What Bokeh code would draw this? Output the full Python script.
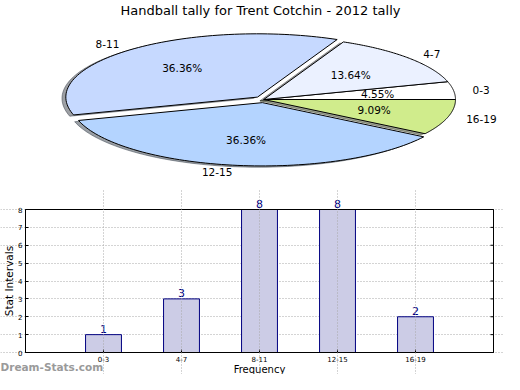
import numpy as np
from bokeh.plotting import figure
from bokeh.models import (Range1d, ColumnDataSource, LabelSet, Label,
                          FixedTicker, BoxAnnotation)
from bokeh.layouts import column
from bokeh.embed import file_html
from bokeh.resources import INLINE
from bokeh.core.properties import value

# ---------------- data ----------------
title = "Handball tally for Trent Cotchin - 2012 tally"
categories = ["0-3", "4-7", "8-11", "12-15", "16-19"]
counts = [1, 3, 8, 8, 2]
slice_colors = ["#FFFFFF", "#EBF1FF", "#C6D9FF", "#B4D4FF", "#D0EC8C"]
explode = [0.0, 0.0, 0.05, 0.05, 0.0]
y_ticks = [0, 1, 2, 3, 4, 5, 6, 7, 8]
y_label = "Stat Intervals"
x_label = "Frequency"
watermark = "Dream-Stats.com"

FONT = "DejaVu Sans"
W = 504
PIE_H = 190
BAR_H = 184

# ---------------- pie ----------------
CX, CY, RX, RY = 263.3, 99.0, 191.7, 63.3

pie = figure(width=W, height=PIE_H, x_range=Range1d(0, W),
             y_range=Range1d(PIE_H, 0), output_backend="svg",
             toolbar_location=None, min_border=0,
             x_axis_location=None, y_axis_location=None)
pie.grid.visible = False
pie.outline_line_color = None

total = float(sum(counts))
fracs = [c / total for c in counts]
bounds = np.concatenate([[0.0], np.cumsum(fracs)]) * 2 * np.pi

sh_xs, sh_ys, sh_cols = [], [], []
sl_xs, sl_ys = [], []
pct_x, pct_y, pct_t = [], [], []
lab_l = dict(x=[], y=[], t=[])
lab_r = dict(x=[], y=[], t=[])
for i, c in enumerate(counts):
    t1, t2 = bounds[i], bounds[i + 1]
    mid = (t1 + t2) / 2
    cx = CX + explode[i] * RX * np.cos(mid)
    cy = CY - explode[i] * RY * np.sin(mid)
    ts = np.linspace(t1, t2, 80)
    xs = [cx] + list(cx + RX * np.cos(ts))
    ys = [cy] + list(cy - RY * np.sin(ts))
    sl_xs.append(xs)
    sl_ys.append(ys)
    sh_xs.append([v - 0.02 * RX for v in xs])
    sh_ys.append([v + 0.02 * RY for v in ys])
    h = slice_colors[i].lstrip("#")
    rgb = [int(h[k:k + 2], 16) for k in (0, 2, 4)]
    sh_cols.append("#%02x%02x%02x" % tuple(int(0.3 * v) for v in rgb))
    pct_x.append(cx + 0.6 * RX * np.cos(mid))
    pct_y.append(cy - 0.6 * RY * np.sin(mid))
    pct_t.append("%.2f%%" % (100 * c / total))
    lx = cx + 1.1 * RX * np.cos(mid)
    ly = cy - 1.1 * RY * np.sin(mid)
    d = lab_r if np.cos(mid) >= 0 else lab_l
    d["x"].append(lx); d["y"].append(ly); d["t"].append(categories[i])

pie.patches(sh_xs, sh_ys, fill_color=sh_cols, fill_alpha=0.5,
            line_color=sh_cols, line_alpha=0.5, line_width=1)
pie.patches(sl_xs, sl_ys, fill_color=slice_colors, line_color="black",
            line_width=1)
txt = dict(text_baseline="middle", text_font=value(FONT),
           text_font_size="10.5px", text_color="black")
pie.text(x=pct_x, y=pct_y, text=pct_t, text_align="center", **txt)
pie.text(x=lab_r["x"], y=lab_r["y"], text=lab_r["t"], text_align="left", **txt)
pie.text(x=lab_l["x"], y=lab_l["y"], text=lab_l["t"], text_align="right", **txt)
pie.text(x=[260], y=[10], text=[title], text_align="center",
         text_baseline="middle", text_font=value(FONT),
         text_font_size="13px", text_color="black")

# ---------------- bars ----------------
# box (axes frame) in picture px; bar canvas spans y = PIE_H .. PIE_H+BAR_H
FR_L, FR_R, FR_T, FR_B = 25, 493, 209, 352
n = len(categories)
xpos = list(range(1, n + 1))
x_lo, x_hi = 0, n + 1
y_lo, y_hi = y_ticks[0], y_ticks[-1]
sx = (FR_R - FR_L) / (x_hi - x_lo)
sy = (FR_B - FR_T) / (y_hi - y_lo)


def px2x(px):
    return x_lo + (px - FR_L) / sx


def py2y(py):
    return y_lo + (FR_B - py) / sy


bar = figure(width=W, height=BAR_H,
             x_range=Range1d(px2x(0), px2x(W)),
             y_range=Range1d(py2y(PIE_H + BAR_H), py2y(PIE_H)),
             output_backend="svg", toolbar_location=None, min_border=0)
bar.outline_line_color = None

src = ColumnDataSource(dict(x=xpos, top=counts, lab=[str(c) for c in counts]))
bar.vbar(x="x", top="top", width=0.46, source=src, fill_color="#CCCCE6",
         line_color="#000080", line_width=1)

bar.xgrid.ticker = FixedTicker(ticks=xpos)
bar.ygrid.ticker = FixedTicker(ticks=y_ticks)
bar.xgrid.bounds = (y_lo, y_hi)
bar.ygrid.bounds = (x_lo, x_hi)
for g in (bar.xgrid, bar.ygrid):
    g.grid_line_color = "#a8a8a8"
    g.grid_line_dash = "1 2"
    g.grid_line_width = 1
bar.xgrid.level = "overlay"

bar.xaxis.ticker = FixedTicker(ticks=xpos)
bar.xaxis.major_label_overrides = {x: c for x, c in zip(xpos, categories)}
bar.yaxis.ticker = FixedTicker(ticks=y_ticks)
bar.xaxis.fixed_location = y_lo
bar.yaxis.fixed_location = x_lo
bar.xaxis.bounds = (x_lo, x_hi)
bar.yaxis.bounds = (y_lo, y_hi)
for ax in (bar.xaxis, bar.yaxis):
    ax.major_label_text_font = FONT
    ax.major_label_text_font_size = "7px"
    ax.major_label_text_color = "black"
    ax.major_tick_in = 3
    ax.major_tick_out = 0
    ax.minor_tick_line_color = None
    ax.axis_line_color = "black"
    ax.major_tick_line_color = "black"
    ax.major_label_standoff = 3

# frame box and right-hand ticks
bar.add_layout(BoxAnnotation(left=x_lo, right=x_hi, bottom=y_lo, top=y_hi,
                             fill_alpha=0, line_color="black", line_width=1,
                             line_alpha=1))
bar.segment(x0=[x_hi] * len(y_ticks), y0=y_ticks,
            x1=[x_hi - 3 / sx] * len(y_ticks), y1=y_ticks,
            line_color="black", line_width=1)

bar.add_layout(LabelSet(x="x", y="top", text="lab", source=src,
                        text_align="center", text_baseline="bottom",
                        y_offset=2, text_font=value(FONT),
                        text_font_size="11px", text_color="#000080"))

bar.add_layout(Label(x=px2x(8.5), y=(y_lo + y_hi) / 2, text=y_label,
                     angle=np.pi / 2, text_align="center",
                     text_baseline="middle", text_font=FONT,
                     text_font_size="10.5px", text_color="black"))
bar.add_layout(Label(x=(x_lo + x_hi) / 2, y=py2y(368.5), text=x_label,
                     text_align="center", text_baseline="middle",
                     text_font=FONT, text_font_size="10px",
                     text_color="black"))
bar.add_layout(Label(x=px2x(0), y=py2y(366), text=watermark,
                     text_align="left", text_baseline="middle",
                     text_font=FONT, text_font_size="10.5px",
                     text_font_style="bold", text_color="#9a9a9a"))

layout = column(pie, bar, spacing=0)
open("out.html", "w").write(file_html(layout, INLINE))
